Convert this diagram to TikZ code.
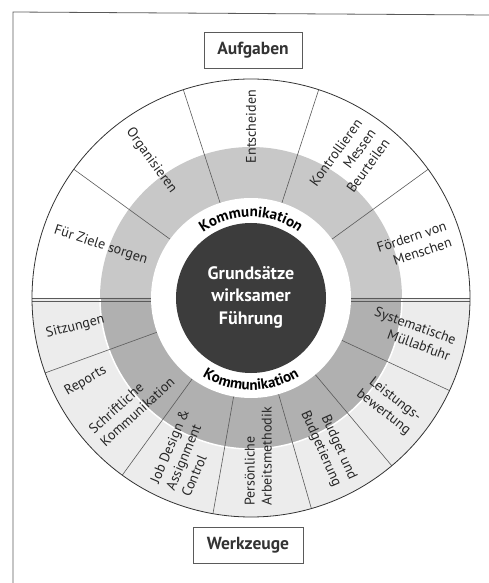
\documentclass[tikz,border=0pt]{standalone}
\usepackage{fontspec}
\setmainfont{PT Sans}
\usepackage{tikz}
\usetikzlibrary{decorations.text}

\definecolor{kerngrau}{RGB}{60,60,60}
\definecolor{bandoben}{RGB}{200,200,200}
\definecolor{bandunten}{RGB}{176,176,176}
\definecolor{ringunten}{RGB}{236,236,236}
\definecolor{linie}{RGB}{90,90,90}

\begin{document}
\begin{tikzpicture}[x = 1pt, y = 1pt,
  feld/.style = {font = \fontsize{14}{17}\selectfont, text = black!85, inner sep = 0pt},
  kasten/.style = {draw = linie, line width = 0.7pt, minimum height = 36pt, font = \bfseries\fontsize{17.5}{20}\selectfont, text = black!80},
  teiler/.style = {draw = linie, line width = 0.6pt},
  bogentext/.style = {decorate, decoration = {text along path, text align = center, text = {|\bfseries\fontsize{15}{16}\selectfont|Kommunikation}}}]
 \useasboundingbox (-251, -285) rectangle (238, 298);
 % frame of the page
 \draw[linie, line width = 0.8pt] (238, 283) -- (-238, 286) -- (-238, -285);
 \node[kasten, minimum width = 98pt] (aufgaben) at (2, 248) {Aufgaben};
 \node[kasten, minimum width = 110pt] (werkzeuge) at (-3, -247) {Werkzeuge};
 % rings
  \fill[ringunten] (180:219) arc (180:360:219) -- cycle;
  \fill[bandoben] (0:151) arc (0:180:151) -- cycle;
  \fill[bandunten] (180:151) arc (180:360:151) -- cycle;
  \draw[white, line width = 1.5pt] (180:151) arc (180:360:151);
  \draw[teiler] (36:100) -- (36:219) (72:100) -- (72:219) (108:100) -- (108:219) (144:100) -- (144:219);
  \draw[teiler] (200:100) -- (200:219) (234:100) -- (234:219) (260:100) -- (260:219) (286:100) -- (286:219) (310:100) -- (310:219) (335:100) -- (335:219);
  \draw[teiler, line width = 0.8pt] (100, 0) -- (219, 0) (-100, 0) -- (-219, 0);
  \draw[teiler, line width = 0.5pt] (100, -3) -- (219, -3) (-100, -3) -- (-219, -3);
  \draw[black!80, line width = 0.8pt] (0, 0) circle (219);
  \fill[white] (0, 0) circle (100);
  \fill[kerngrau] (0, 0) circle (75);
  \node[align = center, text = white, font = \bfseries\fontsize{18}{22.5}\selectfont] (kern) at (0, 1) {Grundsätze\\wirksamer\\Führung};
  \path[bogentext] (134:81) arc (134:46:81);
  \path[bogentext] (226:92) arc (226:314:92);
 % Aufgaben
  \node[feld, rotate = -18, anchor = west] (ziele) at (161:208) {Für Ziele sorgen};
  \node[feld, rotate = -54, anchor = west] (organisieren) at (126:208) {Organisieren};
  \node[feld, rotate = 90, anchor = east] (entscheiden) at (90:208) {Entscheiden};
  \node[feld, rotate = 54, anchor = east, align = right] (kontrollieren) at (54:207) {Kontrollieren\\Messen\\Beurteilen};
  \node[feld, rotate = 18, anchor = east, align = right] (foerdern) at (18:208) {Fördern von\\Menschen};
 % Werkzeuge
  \node[feld, rotate = 14, anchor = west] (sitzungen) at (190:208) {Sitzungen};
  \node[feld, rotate = 30, anchor = west] (reports) at (207:208) {Reports};
  \node[feld, rotate = 42, anchor = west, align = left] (schriftlich) at (222:208) {Schriftliche\\Kommunikation};
  \node[feld, rotate = 67, anchor = west, align = left] (jobdesign) at (247:208) {Job Design \&\\Assignment\\Control};
  \node[feld, rotate = 90, anchor = west, align = left] (arbeitsmethodik) at (272:208) {Persönliche\\Arbeitsmethodik};
  \node[feld, rotate = -66, anchor = east, align = right] (budget) at (297:207) {Budget und\\Budgetierung};
  \node[feld, rotate = -38, anchor = east, align = right] (leistung) at (322:207) {Leistungs-\\bewertung};
  \node[feld, rotate = -20, anchor = east, align = right] (muell) at (346:208) {Systematische\\Müllabfuhr};
\end{tikzpicture}
\end{document}
